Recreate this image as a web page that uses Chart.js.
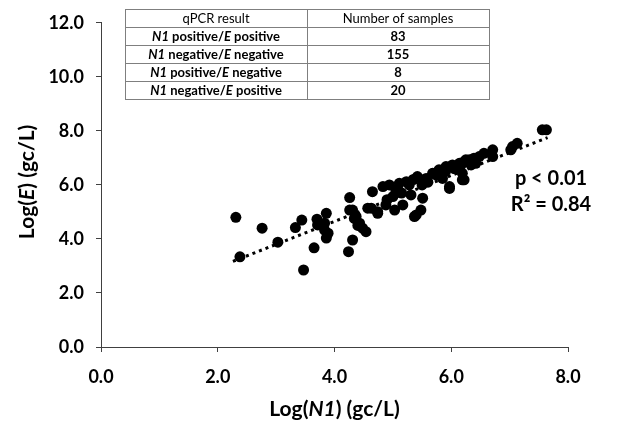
<!DOCTYPE html>
<html>
<head>
<meta charset="utf-8">
<script src="https://cdn.jsdelivr.net/npm/chart.js@4.4.1/dist/chart.umd.min.js"></script>
<style>
  html, body { margin: 0; padding: 0; background: #fff; }
  #wrap { width: 621px; height: 425px; }
</style>
</head>
<body>
<div id="wrap"><canvas id="scatterChart" width="621" height="425"></canvas></div>
<script>
// Values
const logN1 = [2.31, 2.38, 2.76, 3.03, 3.33, 3.44, 3.47, 3.65, 3.70, 3.86, 3.71, 3.83, 3.86, 3.89, 3.83,
    4.26, 4.31, 4.37, 4.43, 4.48, 4.54, 4.31, 4.24, 4.65, 4.83, 4.63, 4.74, 4.88, 5.00, 5.03, 4.74,
    5.17, 5.28, 5.31, 5.51, 5.40, 5.48, 5.42, 5.57, 5.68, 5.79, 5.91, 6.02, 6.14, 6.25, 5.97, 6.19,
    4.94, 5.05, 5.11, 5.23, 5.74, 5.85, 7.56, 7.63, 7.05, 7.02, 6.71, 6.71, 6.56, 6.48, 6.39, 6.31,
    6.22, 6.17, 6.19, 6.22, 6.34, 6.42, 7.13, 5.97, 5.37, 4.26, 4.34, 4.40, 4.57, 5.35, 5.60, 5.90,
    6.05, 5.50, 5.15, 4.90];
const logE = [4.80, 3.34, 4.40, 3.88, 4.42, 4.70, 2.85, 3.67, 4.73, 4.95, 4.52, 4.33, 4.03, 4.21, 4.58,
    5.53, 5.07, 4.83, 4.58, 4.40, 4.27, 3.96, 3.53, 5.75, 5.94, 5.14, 5.01, 5.26, 5.57, 5.07, 4.95,
    5.26, 6.00, 5.63, 5.51, 4.89, 5.07, 6.31, 6.24, 6.43, 6.56, 6.68, 6.74, 6.80, 6.93, 5.94, 6.19,
    6.00, 5.81, 6.06, 6.12, 6.37, 6.24, 8.04, 8.04, 7.42, 7.30, 7.30, 7.05, 7.17, 7.05, 6.99, 6.93,
    6.86, 6.74, 6.43, 6.19, 6.74, 6.80, 7.54, 5.87, 4.83, 5.07, 4.76, 4.50, 5.14, 6.20, 6.10, 6.50,
    6.60, 6.00, 5.70, 5.45];

// Linear trend line end points
const trendX = [2.26, 7.65];
const trendY = [3.17, 7.75];

// Axis ticks
const xTicks = [0, 2, 4, 6, 8];
const yTicks = [0, 2, 4, 6, 8, 10, 12];

// Inset table
const tableHeader = ['qPCR result', 'Number of samples'];
const tableCategories = [
    [['N1', true], [' positive/', false], ['E', true], [' positive', false]],
    [['N1', true], [' negative/', false], ['E', true], [' negative', false]],
    [['N1', true], [' positive/', false], ['E', true], [' negative', false]],
    [['N1', true], [' negative/', false], ['E', true], [' positive', false]]
];
const tableCounts = [83, 155, 8, 20];

const statLines = ['p < 0.01', 'R² = 0.84'];

const FONT = 'Lato, "Open Sans", sans-serif';

// Draws a run of text with some italic parts, centred at x
function drawRich(ctx, parts, x, y, size, bold) {
    const w = bold ? 'bold ' : '';
    let total = 0;
    parts.forEach(p => {
        ctx.font = (p[1] ? 'italic ' : '') + w + size + 'px ' + FONT;
        total += ctx.measureText(p[0]).width;
    });
    let cx = x - total / 2;
    parts.forEach(p => {
        ctx.font = (p[1] ? 'italic ' : '') + w + size + 'px ' + FONT;
        ctx.fillText(p[0], cx, y);
        cx += ctx.measureText(p[0]).width;
    });
}

const overlayPlugin = {
    id: 'overlay',
    afterDraw(chart) {
        const ctx = chart.ctx;
        const area = chart.chartArea;
        ctx.save();
        ctx.fillStyle = '#000';
        ctx.textAlign = 'left';
        ctx.textBaseline = 'middle';

        // Axis titles
        drawRich(ctx, [['Log(', false], ['N1', true], [') (gc/L)', false]],
            (area.left + area.right) / 2, 409, 21, true);
        ctx.save();
        ctx.translate(27, (area.top + area.bottom) / 2 - 3);
        ctx.rotate(-Math.PI / 2);
        drawRich(ctx, [['Log(', false], ['E', true], [') (gc/L)', false]], 0, 0, 21, true);
        ctx.restore();

        // Stats annotation
        ctx.textAlign = 'center';
        ctx.font = 'bold 20px ' + FONT;
        ctx.fillText(statLines[0], 551, 179);
        ctx.fillText(statLines[1], 551, 205);

        // Table
        const tx0 = 125, tx1 = 307, tx2 = 489, ty0 = 9, rowH = 18;
        const rows = tableCategories.length + 1;
        ctx.fillStyle = '#fff';
        ctx.fillRect(tx0, ty0, tx2 - tx0, rowH * rows);
        ctx.strokeStyle = '#7f7f7f';
        ctx.lineWidth = 1;
        ctx.strokeRect(tx0 + 0.5, ty0 + 0.5, tx2 - tx0, rowH * rows);
        ctx.beginPath();
        for (let i = 1; i < rows; i++) {
            ctx.moveTo(tx0, ty0 + rowH * i + 0.5);
            ctx.lineTo(tx2, ty0 + rowH * i + 0.5);
        }
        ctx.moveTo(tx1 + 0.5, ty0);
        ctx.lineTo(tx1 + 0.5, ty0 + rowH * rows);
        ctx.stroke();

        ctx.fillStyle = '#000';
        ctx.font = '13px ' + FONT;
        ctx.fillText(tableHeader[0], (tx0 + tx1) / 2, ty0 + rowH / 2 + 1);
        ctx.fillText(tableHeader[1], (tx1 + tx2) / 2, ty0 + rowH / 2 + 1);
        ctx.textAlign = 'left';
        tableCategories.forEach((parts, i) => {
            const cy = ty0 + rowH * (i + 1.5) + 1;
            drawRich(ctx, parts, (tx0 + tx1) / 2, cy, 13, true);
        });
        ctx.textAlign = 'center';
        ctx.font = 'bold 13px ' + FONT;
        tableCounts.forEach((n, i) => {
            ctx.fillText(String(n), (tx1 + tx2) / 2, ty0 + rowH * (i + 1.5) + 1);
        });
        ctx.restore();
    }
};

const ctxScatter = document.getElementById('scatterChart').getContext('2d');
new Chart(ctxScatter, {
    type: 'scatter',
    data: {
        datasets: [{
            label: 'Samples',
            data: logN1.map((x, i) => ({ x: x, y: logE[i] })),
            backgroundColor: '#000',
            borderColor: '#000',
            pointRadius: 5.5,
            pointBorderWidth: 0,
            order: 1
        }, {
            label: 'Trend',
            data: trendX.map((x, i) => ({ x: x, y: trendY[i] })),
            showLine: true,
            borderColor: '#000',
            borderWidth: 3,
            borderDash: [3, 4],
            pointRadius: 0,
            order: 2
        }]
    },
    options: {
        responsive: false,
        animation: false,
        layout: { padding: { top: 22, right: 53, bottom: 0, left: 0 } },
        plugins: {
            legend: { display: false },
            tooltip: { enabled: false }
        },
        scales: {
            x: {
                type: 'linear', min: 0, max: 8,
                afterBuildTicks: axis => { axis.ticks = xTicks.map(v => ({ value: v })); },
                afterFit: axis => { axis.height = 78; },
                border: { color: '#404040', width: 1 },
                grid: { drawOnChartArea: false, drawTicks: true, tickLength: 5, color: '#404040' },
                ticks: {
                    padding: 14, color: '#000',
                    font: { family: FONT, size: 18, weight: 'bold' },
                    callback: v => v.toFixed(1)
                }
            },
            y: {
                type: 'linear', min: 0, max: 12,
                afterBuildTicks: axis => { axis.ticks = yTicks.map(v => ({ value: v })); },
                afterFit: axis => { axis.width = 101; },
                border: { color: '#404040', width: 1 },
                grid: { drawOnChartArea: false, drawTicks: true, tickLength: 5, color: '#404040' },
                ticks: {
                    padding: 12, color: '#000',
                    font: { family: FONT, size: 18, weight: 'bold' },
                    callback: v => v.toFixed(1)
                }
            }
        }
    },
    plugins: [overlayPlugin]
});
</script>
</body>
</html>
